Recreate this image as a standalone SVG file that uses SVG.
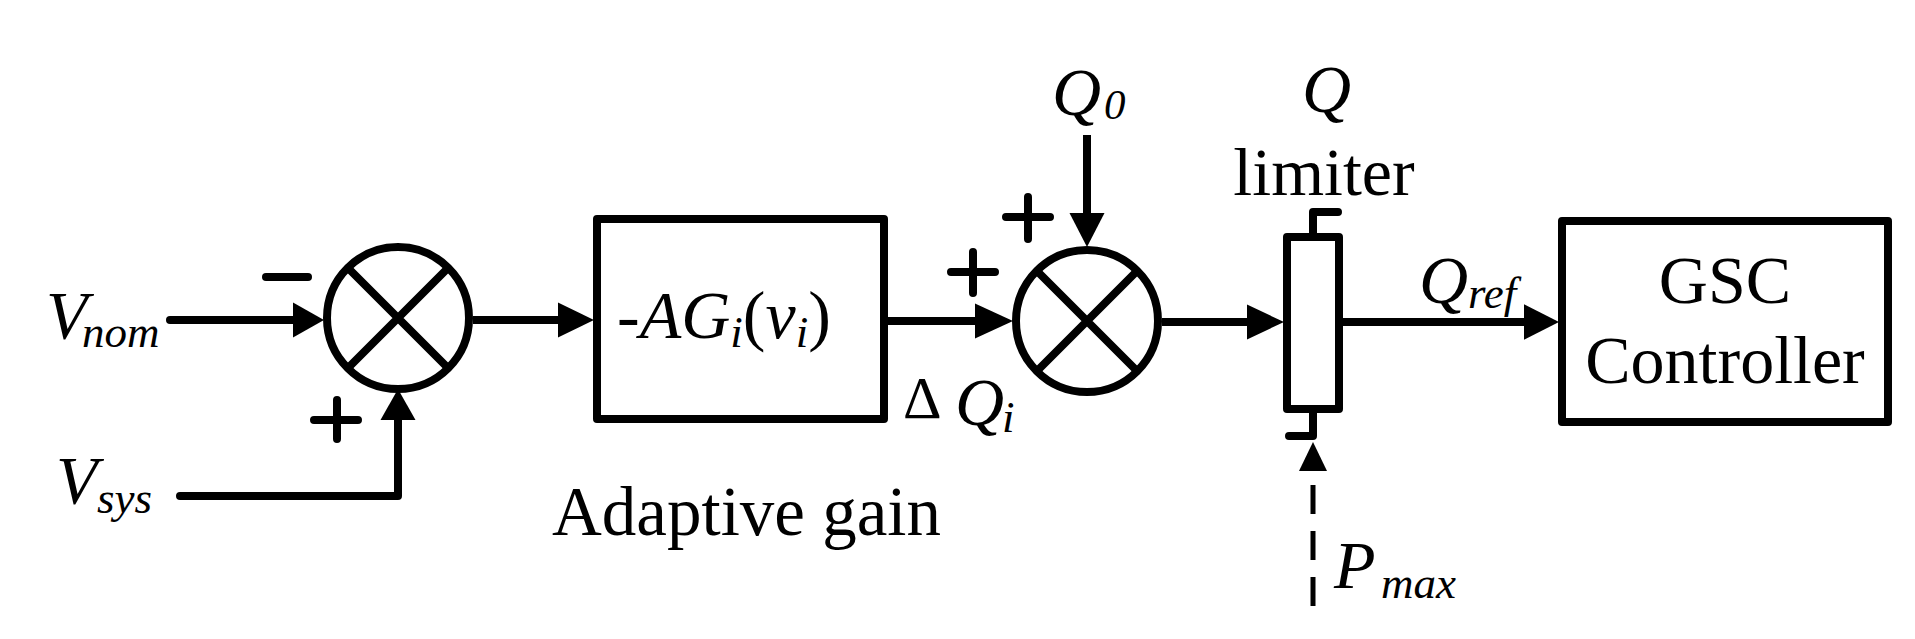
<svg xmlns="http://www.w3.org/2000/svg" width="1915" height="639" viewBox="0 0 1915 639">
<style>
text { font-family: "Liberation Serif", "Times New Roman", serif; fill: #000; }
.t { font-size: 68px; }
.it { font-style: italic; }
.sub { font-size: 45px; font-style: italic; }
.ln { fill: none; stroke: #000; stroke-width: 8; }
.rl { fill: none; stroke: #000; stroke-width: 8; stroke-linecap: round; stroke-linejoin: round; }
.box { fill: #fff; stroke: #000; stroke-width: 8; stroke-linejoin: round; }
.ah { fill: #000; stroke: none; }
.dash { fill: none; stroke: #000; stroke-width: 5; stroke-dasharray: 29 17; }
</style>
<rect width="1915" height="639" fill="#fff"/>

<g id="connectors">
  <!-- Vnom -> sum1 -->
  <path class="rl" d="M170,320 H300"/>
  <polygon class="ah" points="324,320 293,302.5 293,337.5"/>
  <!-- Vsys -> sum1 -->
  <path class="rl" d="M180,496 H398 V412"/>
  <polygon class="ah" points="398,389 380.5,420 415.5,420"/>
  <!-- sum1 -> adaptive gain -->
  <path class="ln" d="M473,320 H565"/>
  <polygon class="ah" points="594,320 558,302.5 558,337.5"/>
  <!-- gain -> sum2 -->
  <path class="ln" d="M888,321 H982"/>
  <polygon class="ah" points="1013,321 975,303.5 975,338.5"/>
  <!-- Q0 -> sum2 -->
  <path class="ln" d="M1087,135 V220"/>
  <polygon class="ah" points="1087,247 1069.5,213 1104.5,213"/>
  <!-- sum2 -> limiter -->
  <path class="ln" d="M1162,322 H1254"/>
  <polygon class="ah" points="1284,322 1247,304.5 1247,339.5"/>
  <!-- limiter -> GSC -->
  <path class="ln" d="M1343,322 H1530"/>
  <polygon class="ah" points="1559,322 1524,304.3 1524,339.7"/>
  <!-- Pmax dashed -> limiter -->
  <path class="dash" d="M1313,485 V607"/>
  <polygon class="ah" points="1313,442 1299,471 1327,471"/>
</g>

<g id="sum1">
  <circle class="ln" cx="398" cy="318" r="71"/>
  <path class="ln" d="M348,268 L448,368 M448,268 L348,368"/>
  <path class="rl" d="M266,277 H308"/>
  <path class="rl" d="M314,420 H358 M337,400 V439"/>
</g>

<g id="vnom">
  <text class="t it" x="46" y="338">V<tspan class="sub" x="82" y="347">nom</tspan></text>
</g>
<g id="vsys">
  <text class="t it" x="56" y="503">V<tspan class="sub" x="97" y="513">sys</tspan></text>
</g>

<g id="adaptive-gain">
  <rect class="box" x="597" y="219" width="287" height="200"/>
  <text class="t" x="617" y="338">-<tspan class="it">AG</tspan><tspan class="sub" dy="9">i</tspan><tspan dy="-9">(</tspan><tspan class="it">v</tspan><tspan class="sub" dy="9">i</tspan><tspan dy="-9">)</tspan></text>
  <text class="t" x="552" y="535" style="font-size:69px">Adaptive gain</text>
</g>

<g id="dq">
  <text x="903" y="418" style="font-size:60px">Δ</text>
  <text class="t it" x="955" y="425">Q<tspan class="sub" x="1002" y="432">i</tspan></text>
</g>

<g id="sum2">
  <circle class="ln" cx="1087" cy="321" r="71"/>
  <path class="ln" d="M1037,271 L1137,371 M1137,271 L1037,371"/>
  <path class="rl" d="M951,272 H995 M973,252 V293"/>
  <path class="rl" d="M1006,217 H1050 M1028,197 V239"/>
</g>

<g id="q0">
  <text class="t it" x="1052" y="115">Q<tspan class="sub" x="1104" y="119" style="font-size:43px">0</tspan></text>
</g>

<g id="limiter">
  <rect class="box" x="1287" y="237" width="52" height="172"/>
  <path class="rl" d="M1313,233 V212 H1338"/>
  <path class="rl" d="M1313,413 V436 H1289"/>
  <text class="t it" x="1302" y="112">Q</text>
  <text class="t" x="1324" y="195" text-anchor="middle">limiter</text>
</g>

<g id="pmax">
  <text class="t it" x="1334" y="588">P<tspan class="sub" x="1381" y="598">max</tspan></text>
</g>

<g id="qref">
  <text class="t it" x="1419" y="303">Q<tspan class="sub" x="1468" y="308">ref</tspan></text>
</g>

<g id="gsc">
  <rect class="box" x="1562" y="221" width="326" height="201"/>
  <text class="t" x="1725" y="303" text-anchor="middle">GSC</text>
  <text class="t" x="1725" y="383" text-anchor="middle">Controller</text>
</g>
</svg>
